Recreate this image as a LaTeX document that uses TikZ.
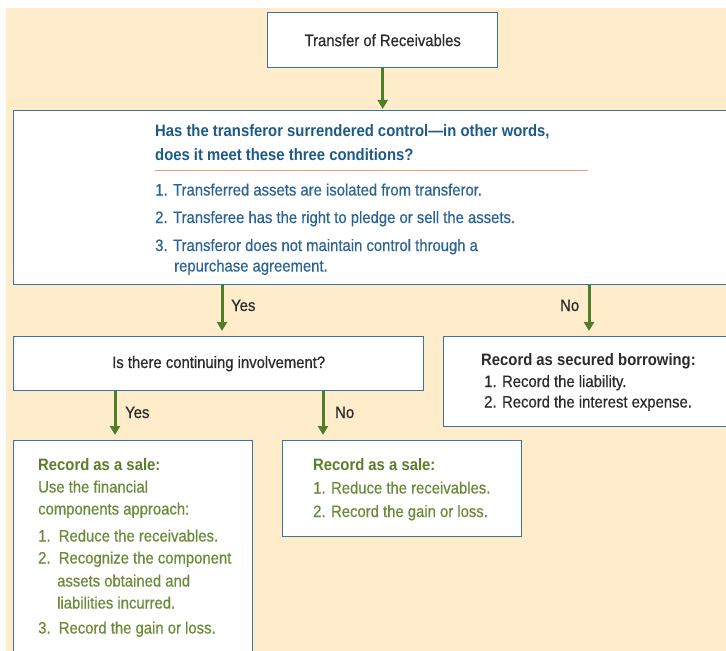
\documentclass[tikz,border=0pt]{standalone}
\usepackage{fontspec}
\setmainfont{Liberation Sans}[FakeStretch=0.9, UprightFeatures={FakeBold=0.5}]
\usetikzlibrary{arrows.meta}
\definecolor{bgpeach}{HTML}{FFECCB}
\definecolor{boxblue}{HTML}{3A74A0}
\definecolor{arrgreen}{HTML}{507D2A}
\definecolor{darktext}{HTML}{2B2B2B}
\definecolor{headblue}{HTML}{1E5A86}
\definecolor{bodyblue}{HTML}{2B6494}
\definecolor{salegreen}{HTML}{5B7D2A}
\definecolor{salebody}{HTML}{6A8A38}
\definecolor{rulecol}{HTML}{E3A080}
\begin{document}
\begin{tikzpicture}[x=1bp,y=-1bp,
  font=\fontsize{16.5bp}{20bp}\selectfont,
  box/.style={draw=boxblue, line width=1.4bp, fill=white, inner sep=0pt, anchor=north west, text=darktext},
  arr/.style={draw=arrgreen, line width=3bp, -{Triangle[width=10bp,length=9bp]}},
  dtxt/.style={anchor=base west, inner sep=0pt, text=darktext},
  dhead/.style={dtxt, font=\fontsize{16.5bp}{20bp}\selectfont\bfseries},
  htxt/.style={anchor=base west, inner sep=0pt, text=headblue, font=\fontsize{16.5bp}{20bp}\selectfont\bfseries},
  btxt/.style={anchor=base west, inner sep=0pt, text=bodyblue},
  gtxt/.style={anchor=base west, inner sep=0pt, text=salebody},
  ghead/.style={anchor=base west, inner sep=0pt, text=salegreen, font=\fontsize{16.5bp}{20bp}\selectfont\bfseries}]
\useasboundingbox (0,0) rectangle (726,651);
\clip (0,0) rectangle (726,651);
\fill[white] (0,0) rectangle (726,651);
\fill[bgpeach] (6,8) rectangle (726,651);

% top box
\node[box, minimum width=230bp, minimum height=55bp] (top) at (267,12) {Transfer of Receivables};

% conditions box
\node[box, minimum width=740bp, minimum height=174bp] (cond) at (13,110) {};
\node[htxt] (h1) at (155,137) {Has the transferor surrendered control—in other words,};
\node[htxt] (h2) at (155,160) {does it meet these three conditions?};
\coordinate (rl) at (155,170.5);
\coordinate (rr) at (588,170.5);
\draw[rulecol, line width=1.3bp] (rl) -- (rr);
\node[btxt] (c1) at (155,195.5) {1. Transferred assets are isolated from transferor.};
\node[btxt] (c2) at (155,223) {2. Transferee has the right to pledge or sell the assets.};
\node[btxt] (c3) at (155,251) {3. Transferor does not maintain control through a};
\node[btxt] (c3b) at (174,271.5) {repurchase agreement.};

\draw[arr, shorten >=1bp] (top.south) -- (cond.north -| top.south);

% second level
\node[box, minimum width=410bp, minimum height=54bp] (cont) at (13,336) {Is there continuing involvement?};
\node[box, minimum width=300bp, minimum height=90bp] (sec) at (443,336) {};
\node[dhead] (s0) at (481,365.5) {Record as secured borrowing:};
\node[dtxt] (s1) at (484,387) {1. Record the liability.};
\node[dtxt] (s2) at (484,407.5) {2. Record the interest expense.};

\coordinate (xy1) at (222,0);
\coordinate (xn1) at (589,0);
\draw[arr, shorten >=5bp] (cond.south -| xy1) -- (cont.north -| xy1);
\draw[arr, shorten >=5bp] (cond.south -| xn1) -- (sec.north -| xn1);
\node[dtxt] (yes1) at (231,311) {Yes};
\node[dtxt] (no1) at (560,311) {No};

% third level
\node[box, minimum width=239bp, minimum height=230bp] (sale1) at (13,440) {};
\node[box, minimum width=239bp, minimum height=96bp] (sale2) at (282,440) {};

\coordinate (xy2) at (115,0);
\coordinate (xn2) at (323,0);
\draw[arr, shorten >=5bp] (cont.south -| xy2) -- (sale1.north -| xy2);
\draw[arr, shorten >=5bp] (cont.south -| xn2) -- (sale2.north -| xn2);
\node[dtxt] (yes2) at (125,418) {Yes};
\node[dtxt] (no2) at (335,418) {No};

\node[ghead] (a0) at (38,470.5) {Record as a sale:};
\node[gtxt] (a1) at (38,492.5) {Use the financial};
\node[gtxt] (a2) at (38,514.5) {components approach:};
\node[gtxt] (a3) at (38,541.5) {1.\ \ Reduce the receivables.};
\node[gtxt] (a4) at (38,563.5) {2.\ \ Recognize the component};
\node[gtxt] (a5) at (57,586.5) {assets obtained and};
\node[gtxt] (a6) at (57,608.5) {liabilities incurred.};
\node[gtxt] (a7) at (38,633.5) {3.\ \ Record the gain or loss.};

\node[ghead] (b0) at (313,470.5) {Record as a sale:};
\node[gtxt] (b1) at (313,493.5) {1. Reduce the receivables.};
\node[gtxt] (b2) at (313,517) {2. Record the gain or loss.};
\end{tikzpicture}
\end{document}
